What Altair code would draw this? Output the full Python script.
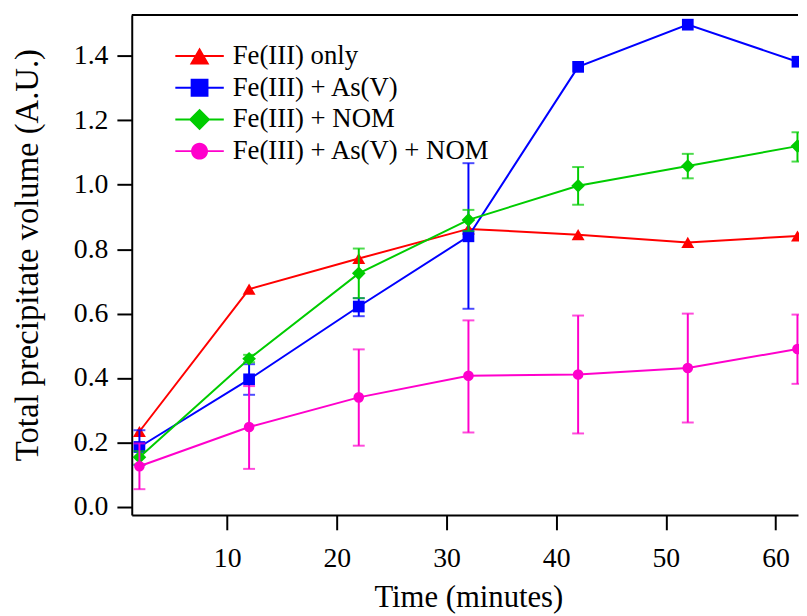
import altair as alt
import pandas as pd

# ---- data ----
time_min = [2, 12, 22, 32, 42, 52, 62]
series_names = ["Fe(III) only", "Fe(III) + As(V)", "Fe(III) + NOM", "Fe(III) + As(V) + NOM"]
series_colors = ["#ff0000", "#0000ff", "#00cc00", "#ff00cc"]
series_shapes = ["triangle-up", "square", "diamond", "circle"]
series_sizes = [170, 140, 190, 115]

fe_only = [0.234, 0.676, 0.771, 0.863, 0.845, 0.821, 0.841]
fe_as = [0.186, 0.396, 0.622, 0.840, 1.366, 1.497, 1.382]
fe_as_lo = [0.130, 0.348, 0.592, 0.615, None, None, None]
fe_as_hi = [0.238, 0.443, 0.648, 1.067, None, None, None]
fe_nom = [0.154, 0.460, 0.725, 0.891, 0.997, 1.058, 1.120]
fe_nom_lo = [0.132, 0.449, 0.648, 0.856, 0.938, 1.020, 1.072]
fe_nom_hi = [0.173, 0.472, 0.802, 0.922, 1.055, 1.096, 1.163]
fe_as_nom = [0.126, 0.248, 0.340, 0.407, 0.411, 0.431, 0.490]
fe_as_nom_lo = [0.055, 0.118, 0.190, 0.231, 0.228, 0.262, 0.382]
fe_as_nom_hi = [0.197, 0.375, 0.489, 0.579, 0.594, 0.600, 0.597]

values = [fe_only, fe_as, fe_nom, fe_as_nom]
lows = [None, fe_as_lo, fe_nom_lo, fe_as_nom_lo]
highs = [None, fe_as_hi, fe_nom_hi, fe_as_nom_hi]

x_ticks = [10, 20, 30, 40, 50, 60]
y_ticks = [0.0, 0.2, 0.4, 0.6, 0.8, 1.0, 1.2, 1.4]

# legend glyphs: line segment + marker (custom SVG paths, unit = symbol radius)
bar = "M-2.72,-0.11H2.72V0.11H-2.72Z"
legend_paths = [
    bar + "M0,-0.95L1.1,0.95H-1.1Z",
    bar + "M-1,-1H1V1H-1Z",
    bar + "M0,-1.2L1.2,0L0,1.2L-1.2,0Z",
    bar + "M-0.95,0A0.95,0.95 0 1,1 0.95,0A0.95,0.95 0 1,1 -0.95,0Z",
]

W, H = 673, 505
FONT = "Liberation Serif"

xscale = alt.Scale(domain=[1.3, 62.05], nice=False, zero=False)
yscale = alt.Scale(domain=[-0.025, 1.527], nice=False, zero=False)

xaxis = alt.Axis(values=x_ticks, title="Time (minutes)", grid=False,
                 labelFont=FONT, labelFontSize=28, labelColor="black",
                 titleFont=FONT, titleFontSize=31, titleFontWeight="normal", titleColor="black",
                 titleX=340, titleY=92, titleBaseline="alphabetic", titleAlign="center",
                 domainColor="black", domainWidth=2, tickColor="black", tickWidth=2,
                 tickSize=15, labelPadding=15)
yaxis = alt.Axis(values=y_ticks, format=".1f", title="Total precipitate volume (A.U.)", grid=False,
                 labelFont=FONT, labelFontSize=28, labelColor="black",
                 titleFont=FONT, titleFontSize=33, titleFontWeight="normal", titleColor="black",
                 titleX=-105, titleY=242, titleAngle=270, titleBaseline="middle", titleAlign="center",
                 domainColor="black", domainWidth=2, tickColor="black", tickWidth=2,
                 tickSize=15, labelPadding=9)


def X(field):
    return alt.X(field, scale=xscale, axis=xaxis)


def Y(field):
    return alt.Y(field, scale=yscale, axis=yaxis)


layers = []
for name, col, shp, sz, vals, lo, hi in zip(series_names, series_colors, series_shapes,
                                              series_sizes, values, lows, highs):
    df = pd.DataFrame({"t": time_min, "v": vals})
    layers.append(alt.Chart(df).mark_line(color=col, strokeWidth=2).encode(x=X("t:Q"), y=Y("v:Q")))
    if lo is not None:
        edf = pd.DataFrame({"t": time_min, "v": lo, "hi": hi}).dropna()
        layers.append(alt.Chart(edf).mark_rule(color=col, strokeWidth=2).encode(
            x=X("t:Q"), y=Y("v:Q"), y2="hi:Q"))
        cdf = pd.DataFrame({"t": list(edf["t"]) * 2, "v": list(edf["v"]) + list(edf["hi"])})
        layers.append(alt.Chart(cdf).mark_tick(color=col, orient="horizontal", size=12,
                                               thickness=2).encode(x=X("t:Q"), y=Y("v:Q")))
    layers.append(alt.Chart(df).mark_point(shape=shp, size=sz, filled=True, color=col,
                                           opacity=1).encode(x=X("t:Q"), y=Y("v:Q")))

# invisible layer carrying the legend
leg_df = pd.DataFrame({"series": series_names, "t": [time_min[0]] * 4,
                       "v": [v[0] for v in values]})
legend = alt.Legend(title=None, orient="none", legendX=55, legendY=28, padding=0,
                    labelFont=FONT, labelFontSize=27, labelColor="black", labelLimit=0,
                    symbolSize=324, labelOffset=20, rowPadding=4,
                    symbolOpacity=1, symbolStrokeWidth=0)
layers.append(alt.Chart(leg_df).mark_point(filled=True, opacity=0).encode(
    x=X("t:Q"), y=Y("v:Q"),
    color=alt.Color("series:N", scale=alt.Scale(domain=series_names, range=series_colors),
                    legend=legend, sort=series_names),
    shape=alt.Shape("series:N", scale=alt.Scale(domain=series_names, range=legend_paths),
                    legend=legend, sort=series_names)))

# top frame line
layers.append(alt.Chart(pd.DataFrame({"a": [0]})).mark_rule(color="black", strokeWidth=2).encode(
    y=alt.value(0), x=alt.value(0), x2=alt.value(W)))

chart = alt.layer(*layers).properties(
    width=W, height=H,
    autosize=alt.AutoSizeParams(type="none"),
    padding={"left": 125, "top": 4, "right": 1, "bottom": 99},
    background="white",
).configure_view(stroke=None)

chart.save("out.html", embed_options={"renderer": "svg", "actions": False})
